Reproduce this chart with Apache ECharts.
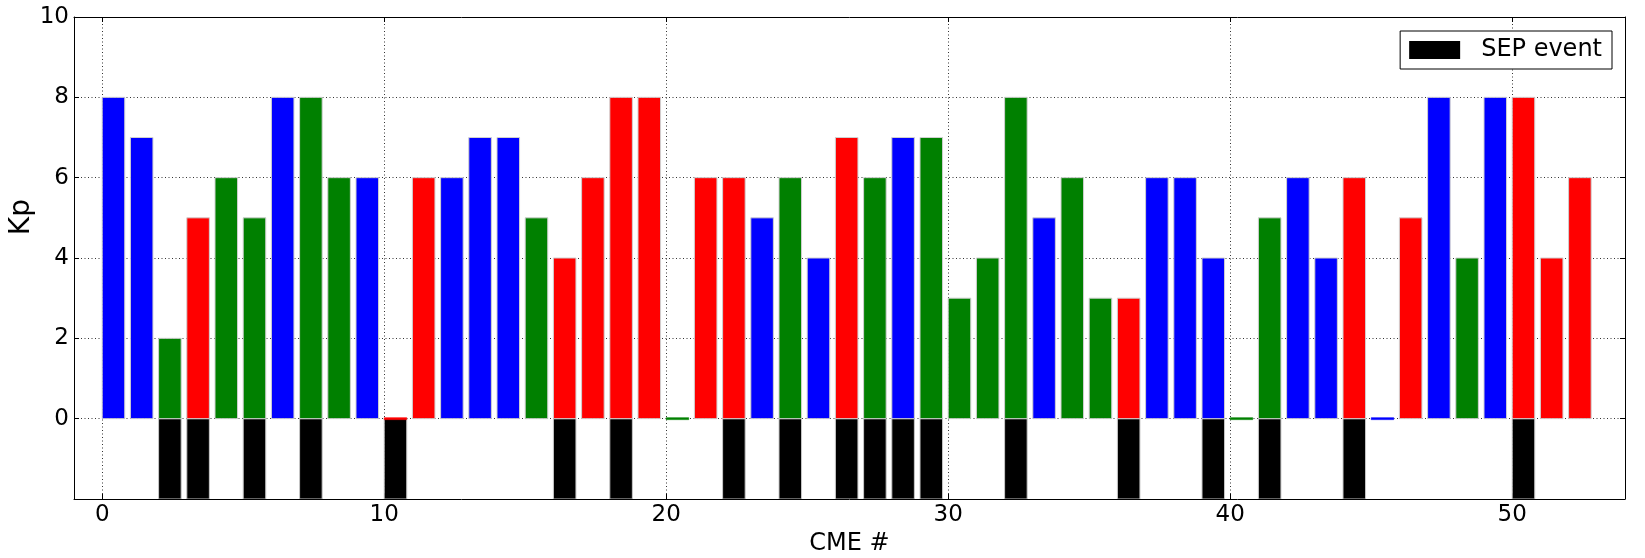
<!DOCTYPE html>
<html><head><meta charset="utf-8">
<script src="https://cdn.jsdelivr.net/npm/echarts@6/dist/echarts.min.js"></script>
<style>html,body{margin:0;padding:0;background:#fff}#chart{width:1645px;height:558px}</style>
</head><body><div id="chart"></div>
<script>
// ---- data ----
const cmeNumbers = [0,1,2,3,4,5,6,7,8,9,10,11,12,13,14,15,16,17,18,19,20,21,22,23,24,25,26,27,28,29,30,31,32,33,34,35,36,37,38,39,40,41,42,43,44,45,46,47,48,49,50,51,52];
const kpValues = [8,7,2,5,6,5,8,8,6,6, 0,6,6,7,7,5,4,6,8,8, 0,6,6,5,6,4,7,6,7,7, 3,4,8,5,6,3,3,6,6,4, 0,5,6,4,6,0,5,8,4,8, 8,4,6];
const kpClass = ['b','b','g','r','g','g','b','g','g','b',
                 'r','r','b','b','b','g','r','r','r','r',
                 'g','r','r','b','g','b','r','g','b','g',
                 'g','g','g','b','g','g','r','b','b','b',
                 'g','g','b','b','r','b','r','b','g','b',
                 'r','r','r'];
const sepEvent = [0,0,1,1,0,1,0,1,0,0, 1,0,0,0,0,0,1,0,1,0, 0,0,1,0,1,0,1,1,1,1, 0,0,1,0,0,0,1,0,0,1, 0,1,0,0,1,0,0,0,0,0, 1,0,0];
const sepDepth = -2;
const xTicks = [0,10,20,30,40,50];
const yTicks = [0,2,4,6,8,10];
const legendLabel = 'SEP event';

// ---- styles ----
const classColor = {b:'#0000ff', g:'#008000', r:'#ff0000'};
const BAR_W = 0.8;
const FONT = 'DejaVu Sans';

function barRect(api, x, v, minH) {
  const p0 = api.coord([x, 0]);
  const p1 = api.coord([x + BAR_W, v]);
  let y = Math.min(p0[1], p1[1]);
  let h = Math.abs(p1[1] - p0[1]);
  if (h < minH) { h = minH; y = p0[1] - minH / 2; }
  return {x: p0[0], y: y, width: p1[0] - p0[0], height: h};
}

const kpData = cmeNumbers.map((c, i) => [c, kpValues[i]]);
const sepData = cmeNumbers.filter((c, i) => sepEvent[i]).map(c => [c, sepDepth]);

const chart = echarts.init(document.getElementById('chart'), null, {renderer: 'canvas'});
const gridLine = {show: true, lineStyle: {color: '#000', width: 0.8, type: [1, 2.5]}};
const option = {
  backgroundColor: '#fff',
  animation: false,
  textStyle: {fontFamily: FONT},
  grid: {left: 74, right: 20, top: 17, bottom: 59, outerBoundsMode: 'none', containLabel: false},
  legend: {
    data: [{name: legendLabel, icon: 'rect'}],
    right: 33, top: 31,
    itemWidth: 51, itemHeight: 18,
    padding: [7, 10, 7, 9],
    borderColor: '#000', borderWidth: 1, borderRadius: 0,
    backgroundColor: '#fff',
    selectedMode: false,
    textStyle: {fontFamily: FONT, fontSize: 24, color: '#000', padding: [0, 0, 0, 16]}
  },
  graphic: [{
    type: 'text', left: 8, top: 199, rotation: Math.PI / 2,
    style: {text: 'Kp', fontFamily: FONT, fontSize: 28, fill: '#000'}
  }],
  xAxis: [{
    type: 'value', min: -1, max: 54, position: 'bottom',
    name: 'CME #', nameLocation: 'middle', nameGap: 23,
    nameTextStyle: {fontFamily: FONT, fontSize: 24, color: '#000'},
    axisLine: {show: true, onZero: false, lineStyle: {color: '#000', width: 1}},
    axisTick: {show: true, inside: true, length: 5, customValues: xTicks, lineStyle: {color: '#000'}},
    axisLabel: {show: true, customValues: xTicks, margin: 5, fontFamily: FONT, fontSize: 23, color: '#000'},
    splitLine: gridLine
  }, {
    type: 'value', min: -1, max: 54, position: 'top',
    axisLine: {show: true, onZero: false, lineStyle: {color: '#000', width: 1}},
    axisTick: {show: true, inside: true, length: 5, customValues: xTicks, lineStyle: {color: '#000'}},
    axisLabel: {show: false}, splitLine: {show: false}
  }],
  yAxis: [{
    type: 'value', min: -2, max: 10, interval: 2, position: 'left',
    axisLine: {show: true, onZero: false, lineStyle: {color: '#000', width: 1}},
    axisTick: {show: true, inside: true, length: 5, lineStyle: {color: '#000'}},
    axisLabel: {show: true, margin: 5, fontFamily: FONT, fontSize: 23, color: '#000',
      formatter: v => (yTicks.indexOf(v) >= 0 ? String(v) : '')},
    splitLine: gridLine
  }, {
    type: 'value', min: -2, max: 10, interval: 2, position: 'right',
    axisLine: {show: true, onZero: false, lineStyle: {color: '#000', width: 1}},
    axisTick: {show: true, inside: true, length: 5, lineStyle: {color: '#000'}},
    axisLabel: {show: false}, splitLine: {show: false}
  }],
  series: [{
    name: legendLabel, type: 'custom', xAxisIndex: 0, yAxisIndex: 0, clip: true, z: 2,
    itemStyle: {color: '#000'},
    encode: {x: 0, y: 1},
    data: sepData,
    renderItem: (params, api) => ({
      type: 'rect',
      shape: barRect(api, api.value(0), api.value(1), 0),
      style: {fill: '#000', stroke: '#c8c8c8', lineWidth: 1}
    })
  }, {
    name: 'Kp', type: 'custom', xAxisIndex: 0, yAxisIndex: 0, clip: true, z: 3,
    encode: {x: 0, y: 1},
    data: kpData,
    renderItem: (params, api) => {
      const col = classColor[kpClass[params.dataIndex]];
      const v = api.value(1);
      return {
        type: 'rect',
        shape: barRect(api, api.value(0), v, 2),
        style: v === 0 ? {fill: col, stroke: col, lineWidth: 0.5}
                       : {fill: col, stroke: '#d0d0d0', lineWidth: 1}
      };
    }
  }]
};
chart.setOption(option);
</script></body></html>
